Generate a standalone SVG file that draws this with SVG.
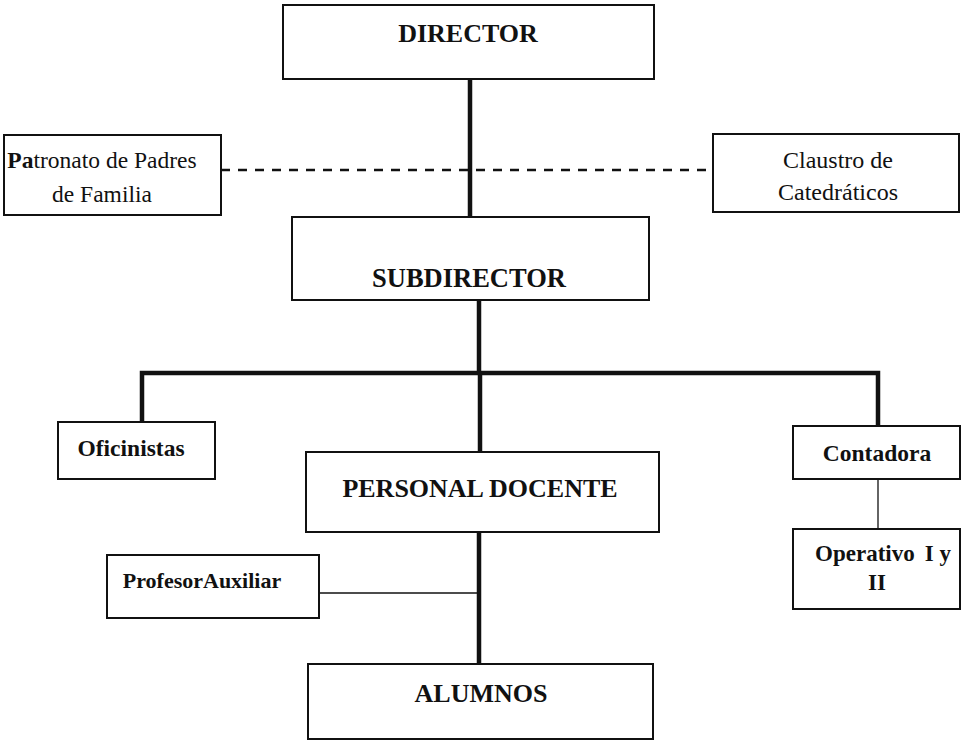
<svg xmlns="http://www.w3.org/2000/svg" width="977" height="741" viewBox="0 0 977 741">
<style>
.box{fill:#fff;stroke:#111;stroke-width:2}
.t{font-family:"Liberation Serif",serif;fill:#111;text-anchor:middle}
.b{font-weight:bold}
.thick{stroke:#111;stroke-width:4.5;fill:none}
.thin{stroke:#111;stroke-width:1.3;fill:none}
.dash{stroke:#111;stroke-width:2.5;stroke-dasharray:9,8;fill:none}
</style>
<rect width="977" height="741" fill="#fff"/>
<g id="connectors">
<line class="thick" x1="470" y1="79" x2="470" y2="217"/>
<line class="dash" x1="221" y1="170" x2="713" y2="170"/>
<line class="thick" x1="479" y1="300" x2="479" y2="373"/>
<polyline class="thick" points="142,422 142,373 878,373 878,426"/>
<line class="thick" x1="480" y1="373" x2="480" y2="452"/>
<line class="thick" x1="479" y1="532" x2="479" y2="664"/>
<line class="thin" x1="319" y1="593" x2="479" y2="593"/>
<line class="thin" x1="878" y1="479" x2="878" y2="529"/>
</g>
<g id="director">
<rect class="box" x="283" y="5" width="371" height="74"/>
<text class="t b" x="468" y="42" font-size="26">DIRECTOR</text>
</g>
<g id="patronato">
<rect class="box" x="4" y="135" width="217" height="80"/>
<text class="t" x="102" y="168" font-size="23.5"><tspan font-weight="bold">Pa</tspan>tronato de Padres</text>
<text class="t" x="102" y="202" font-size="23.5">de Familia</text>
</g>
<g id="claustro">
<rect class="box" x="713" y="134" width="246" height="78"/>
<text class="t" x="838" y="168" font-size="24">Claustro de</text>
<text class="t" x="838" y="200" font-size="24">Catedráticos</text>
</g>
<g id="subdirector">
<rect class="box" x="292" y="217" width="357" height="83"/>
<text class="t b" x="469" y="287" font-size="26.5">SUBDIRECTOR</text>
</g>
<g id="oficinistas">
<rect class="box" x="58" y="422" width="157" height="57"/>
<text class="t b" x="131" y="456" font-size="23.5">Oficinistas</text>
</g>
<g id="personal-docente">
<rect class="box" x="306" y="452" width="353" height="80"/>
<text class="t b" x="480" y="497" font-size="26">PERSONAL DOCENTE</text>
</g>
<g id="contadora">
<rect class="box" x="793" y="426" width="167" height="53"/>
<text class="t b" x="877" y="461" font-size="23.5">Contadora</text>
</g>
<g id="operativo">
<rect class="box" x="793" y="529" width="167" height="80"/>
<text class="t b" x="883" y="561" font-size="23"><tspan>Operativo</tspan><tspan dx="10">I y</tspan></text>
<text class="t b" x="877" y="590" font-size="23">II</text>
</g>
<g id="profesor-auxiliar">
<rect class="box" x="107" y="555" width="212" height="63"/>
<text class="t b" x="202" y="588" font-size="22">ProfesorAuxiliar</text>
</g>
<g id="alumnos">
<rect class="box" x="308" y="664" width="345" height="75"/>
<text class="t b" x="481" y="702" font-size="26">ALUMNOS</text>
</g>
</svg>
